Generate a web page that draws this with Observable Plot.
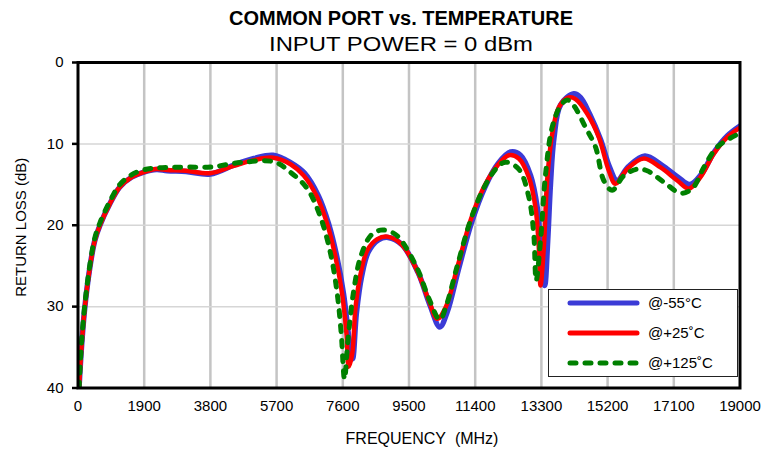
<!DOCTYPE html>
<html>
<head>
<meta charset="utf-8">
<script src="https://cdn.jsdelivr.net/npm/d3@7"></script>
<script src="https://cdn.jsdelivr.net/npm/@observablehq/plot@0.6"></script>
<style>
  html, body { margin: 0; padding: 0; background: #fff; }
  #wrap { position: relative; width: 763px; height: 450px; font-family: Arial, "Liberation Sans", sans-serif; }
  #legend { position: absolute; left: 548px; top: 289px; width: 190px; height: 88px; border: 1.5px solid #222; background: #fff; box-sizing: border-box; }
</style>
</head>
<body>
<div id="wrap"><div id="chart"></div><div id="legend"></div></div>
<script>
const titleText = "COMMON PORT vs. TEMPERATURE";
const subtitleText = "INPUT POWER = 0 dBm";
const xLabel = "FREQUENCY\u00a0 (MHz)";
const yLabel = "RETURN LOSS (dB)";
const xTicks = [0, 1900, 3800, 5700, 7600, 9500, 11400, 13300, 15200, 17100, 19000];
const yTicks = [0, 10, 20, 30, 40];
const seriesNames = ["@-55°C", "@+25˚C", "@+125˚C"];
const seriesColors = ["#3b3bd6", "#ff0000", "#008000"];

// -55 °C
const freqM55 = [30, 100, 195, 340, 480, 630, 910, 1200, 1535, 1870, 2250, 2560, 3100, 3800, 4470, 5050, 5600, 6100, 6500, 6900, 7190, 7430, 7620, 7750, 7840, 7880, 7990, 8140, 8330, 8620, 8900, 9300, 9760, 10100, 10385, 10600, 10920, 11300, 11680, 12060, 12420, 12700, 12990, 13180, 13280, 13395, 13480, 13560, 13660, 13850, 14230, 14420, 14680, 15000, 15250, 15470, 15800, 16270, 16750, 17220, 17560, 17880, 18260, 18640, 19000];
const dbM55 = [40, 35, 30.1, 25.2, 21.9, 20, 17.4, 15.3, 14.1, 13.5, 13.15, 13.3, 13.4, 13.7, 12.6, 11.8, 11.4, 12.3, 13.6, 16.4, 19.8, 23.9, 28.4, 33.0, 36.0, 36.4, 30.8, 26.3, 23.3, 21.8, 21.5, 22.4, 25.8, 29.8, 32.5, 30.6, 25.4, 19.6, 15.3, 12.4, 11.0, 11.4, 13.9, 17.8, 22.5, 27.4, 22.0, 15.0, 9.3, 5.2, 3.85, 4.3, 6.3, 9.5, 12.8, 14.5, 12.8, 11.5, 12.6, 14.1, 15.0, 13.8, 11.0, 9.0, 7.8];

// +25 °C
const freqP25 = [30, 100, 195, 340, 480, 630, 910, 1200, 1535, 1870, 2250, 2560, 3100, 3800, 4470, 5050, 5600, 6100, 6480, 6865, 7150, 7390, 7580, 7705, 7772, 7870, 7965, 8110, 8300, 8590, 8875, 9300, 9735, 10070, 10310, 10550, 10885, 11265, 11650, 12030, 12365, 12650, 12940, 13130, 13225, 13275, 13370, 13465, 13610, 13800, 14085, 14280, 14615, 14950, 15235, 15425, 15760, 16240, 16720, 17200, 17530, 17865, 18250, 18630, 19000];
const dbP25 = [40, 35, 30.1, 25.2, 21.9, 20, 17.4, 15.3, 14.1, 13.5, 13.1, 13.2, 13.3, 13.6, 12.7, 12.0, 11.7, 12.5, 13.9, 16.55, 19.8, 23.9, 28.4, 33.3, 37.4, 35.8, 30.1, 26.0, 23.1, 21.7, 21.4, 22.4, 25.6, 29.25, 31.5, 30.1, 25.2, 19.4, 15.3, 12.7, 11.4, 11.8, 14.1, 17.8, 22.7, 27.4, 22.7, 14.5, 8.8, 5.5, 4.3, 4.5, 6.3, 9.2, 13.3, 14.9, 13.1, 11.8, 12.9, 14.5, 15.5, 14.1, 11.2, 9.2, 8.0];

// +125 °C
const freqP125 = [30, 100, 195, 340, 480, 630, 910, 1200, 1535, 1870, 2180, 2600, 3130, 3800, 4660, 5620, 6100, 6580, 6960, 7250, 7440, 7555, 7650, 7745, 7915, 8110, 8395, 8680, 8970, 9210, 9735, 10070, 10385, 10560, 10885, 11265, 11650, 12030, 12270, 12650, 12940, 13080, 13150, 13275, 13420, 13610, 13850, 14040, 14230, 14565, 14855, 15090, 15330, 15665, 16050, 16335, 16815, 17295, 17630, 17960, 18345, 18920, 19000];
const dbP125 = [40, 34.5, 29.8, 24.9, 21.6, 19.7, 17.1, 15.0, 13.8, 13.2, 13.0, 12.9, 12.85, 12.85, 12.3, 12.2, 13.5, 15.5, 19.0, 23.5, 28.4, 33.3, 38.9, 34.2, 28.0, 23.9, 21.3, 20.6, 20.8, 21.5, 25.3, 29.0, 31.6, 30.0, 25.0, 19.4, 15.4, 12.9, 12.25, 13.1, 16.55, 21.05, 26.8, 21.9, 13.7, 7.95, 5.3, 4.6, 5.3, 7.95, 10.4, 14.5, 15.7, 13.9, 13.1, 13.3, 14.7, 16.05, 15.5, 12.9, 10.4, 8.85, 8.7];

const toRows = (fs, ds, s) => fs.map((f, i) => ({f, db: ds[i], s}));
const rows = [
  ...toRows(freqM55, dbM55, seriesNames[0]),
  ...toRows(freqP25, dbP25, seriesNames[1]),
  ...toRows(freqP125, dbP125, seriesNames[2])
];
const font = 'Arial, "Liberation Sans", sans-serif';

const chart = Plot.plot({
  width: 763,
  height: 450,
  marginLeft: 77.5,
  marginRight: 23.5,
  marginTop: 62,
  marginBottom: 62.5,
  style: {fontFamily: font, fontSize: "15px", color: "#000", background: "#fff"},
  x: {domain: [0, 19000]},
  y: {domain: [0, 40], reverse: true},
  marks: [
    Plot.ruleX(xTicks.slice(1, -1), {stroke: "#c4c4c4", strokeWidth: 2.5}),
    Plot.ruleY(yTicks.slice(1, -1), {stroke: "#d6d6d6", strokeWidth: 1.5}),
    Plot.line(rows.filter(d => d.s === seriesNames[0]), {x: "f", y: "db", stroke: seriesColors[0], strokeWidth: 5.5, curve: "catmull-rom", clip: true}),
    Plot.line(rows.filter(d => d.s === seriesNames[1]), {x: "f", y: "db", stroke: seriesColors[1], strokeWidth: 4.5, curve: "catmull-rom", clip: true}),
    Plot.line(rows.filter(d => d.s === seriesNames[2]), {x: "f", y: "db", stroke: seriesColors[2], strokeWidth: 5, strokeDasharray: "6 9", strokeLinecap: "round", curve: "catmull-rom", clip: true}),
    Plot.frame({stroke: "#000", strokeWidth: 3}),
    Plot.axisX({ticks: xTicks, tickFormat: d => String(d), tickSize: 0, tickPadding: 12, label: null, fontSize: 15}),
    Plot.axisY({ticks: yTicks, tickFormat: d => String(d), tickSize: 5.5, tickPadding: 9, strokeWidth: 2.5, label: null, fontSize: 15}),
    Plot.text([titleText], {className: "ttl", frameAnchor: "top", dx: -8, dy: -44, lineAnchor: "middle", textAnchor: "middle", text: d => d, fontSize: 20, fontWeight: "bold"}),
    Plot.text([subtitleText], {className: "sub", frameAnchor: "top", dx: -8, dy: -18, lineAnchor: "middle", textAnchor: "middle", text: d => d, fontSize: 20}),
    Plot.text([yLabel], {frameAnchor: "left", dx: -57, dy: 2, rotate: -90, lineAnchor: "middle", textAnchor: "middle", text: d => d, fontSize: 15}),
    Plot.text([xLabel], {frameAnchor: "bottom", dx: 13, dy: 50.5, lineAnchor: "middle", textAnchor: "middle", text: d => d, fontSize: 16})
  ]
});
document.getElementById("chart").appendChild(chart);
d3.select(chart).select(".ttl text").attr("textLength", 344).attr("lengthAdjust", "spacingAndGlyphs");
d3.select(chart).select(".sub text").attr("textLength", 264).attr("lengthAdjust", "spacingAndGlyphs");

// Legend (inside plot area, drawn as overlay)
const lg = d3.select("#legend").append("svg").attr("width", 187).attr("height", 85);
seriesNames.forEach((name, i) => {
  const y = 13 + i * 30;
  const line = lg.append("line").attr("x1", 21).attr("x2", 88).attr("y1", y).attr("y2", y)
    .attr("stroke", seriesColors[i]).attr("stroke-width", 5).attr("stroke-linecap", "round");
  if (i === 2) line.attr("stroke-dasharray", "6 9");
  lg.append("text").attr("x", 99).attr("y", y).attr("dy", "0.35em")
    .attr("font-family", font).attr("font-size", 15).text(name);
});
</script>
</body>
</html>
